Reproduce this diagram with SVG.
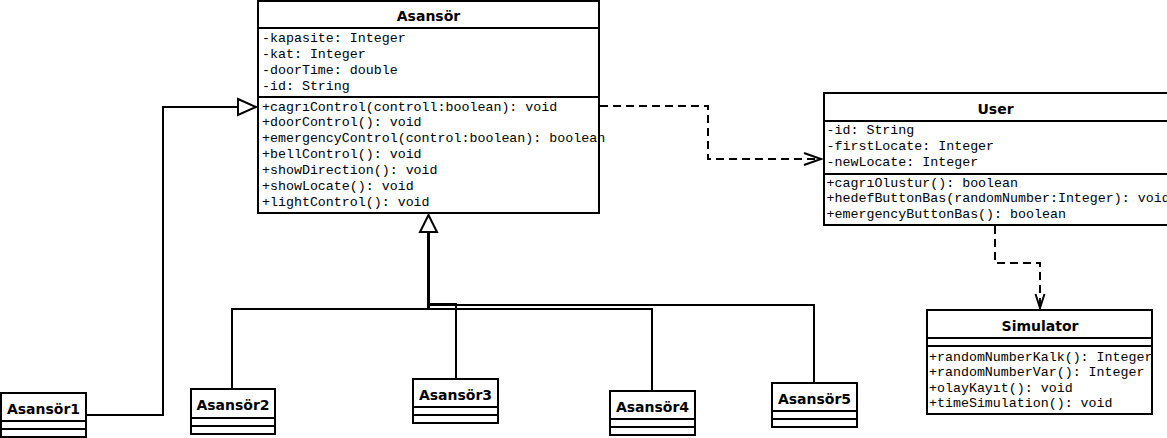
<svg xmlns="http://www.w3.org/2000/svg" width="1167" height="438" viewBox="0 0 1167 438">
<style>
.box{fill:#fff;stroke:#000;stroke-width:2}
.sep{stroke:#000;stroke-width:2}
.title{font-family:"DejaVu Sans",Verdana,sans-serif;font-weight:bold;font-size:14px;fill:#000;text-anchor:middle}
.mono{font-family:"Liberation Mono","Courier New",monospace;font-size:13.3px;fill:#000}
.line{fill:none;stroke:#000;stroke-width:2}
.dash{fill:none;stroke:#000;stroke-width:2;stroke-dasharray:8 5}
.head{fill:none;stroke:#000;stroke-width:2}
.tri{fill:#fff;stroke:#000;stroke-width:2}
</style>
<rect width="1167" height="438" fill="#fff"/>
<g id="connectors">
<path class="line" d="M86 415 H163 V107 H238"/>
<polygon class="tri" points="238,99 256,107 238,115"/>
<path class="line" d="M232 389 V309 H429"/>
<path class="line" d="M456 379 V304 H429"/>
<path class="line" d="M652 391 V309 H429"/>
<path class="line" d="M814 383 V305 H429"/>
<path d="M428.5 232 V309" fill="none" stroke="#000" stroke-width="3"/>
<polygon class="tri" points="428.5,215 420,232 437,232"/>
<path class="dash" d="M600 106 H708 V159 H820"/>
<polyline class="head" points="804,153 821,159 804,165"/>
<path class="dash" d="M995 226 V263 H1040 V306"/>
<polyline class="head" points="1035.5,294 1040,308 1044.5,294"/>
</g>
<g id="Asansor">
<rect class="box" x="258" y="1" width="341" height="212"/>
<line class="sep" x1="258" y1="28" x2="599" y2="28"/>
<line class="sep" x1="258" y1="97" x2="599" y2="97"/>
<text class="title" x="428.5" y="21">Asansör</text>
<text class="mono" x="262" y="42">-kapasite: Integer</text>
<text class="mono" x="262" y="58">-kat: Integer</text>
<text class="mono" x="262" y="74">-doorTime: double</text>
<text class="mono" x="262" y="90">-id: String</text>
<text class="mono" x="262" y="110.5">+cagrıControl(controll:boolean): void</text>
<text class="mono" x="262" y="126.3">+doorControl(): void</text>
<text class="mono" x="262" y="142.2">+emergencyControl(control:boolean): boolean</text>
<text class="mono" x="262" y="158">+bellControl(): void</text>
<text class="mono" x="262" y="173.8">+showDirection(): void</text>
<text class="mono" x="262" y="189.7">+showLocate(): void</text>
<text class="mono" x="262" y="205.5">+lightControl(): void</text>
</g>
<g id="User">
<rect class="box" x="824" y="93" width="345" height="132"/>
<line class="sep" x1="824" y1="121" x2="1169" y2="121"/>
<line class="sep" x1="824" y1="174" x2="1169" y2="174"/>
<text class="title" x="995.5" y="113.5">User</text>
<text class="mono" x="826.5" y="133.5">-id: String</text>
<text class="mono" x="826.5" y="150">-firstLocate: Integer</text>
<text class="mono" x="826.5" y="166.3">-newLocate: Integer</text>
<text class="mono" x="826.5" y="186.7">+cagrıOlustur(): boolean</text>
<text class="mono" x="826.5" y="202.3">+hedefButtonBas(randomNumber:Integer): void</text>
<text class="mono" x="826.5" y="218">+emergencyButtonBas(): boolean</text>
</g>
<g id="Simulator">
<rect class="box" x="927" y="310" width="225" height="104"/>
<line class="sep" x1="927" y1="338" x2="1152" y2="338"/>
<line class="sep" x1="927" y1="346" x2="1152" y2="346"/>
<text class="title" x="1040" y="331">Simulator</text>
<text class="mono" x="929" y="360.5">+randomNumberKalk(): Integer</text>
<text class="mono" x="929" y="376">+randomNumberVar(): Integer</text>
<text class="mono" x="929" y="391.5">+olayKayıt(): void</text>
<text class="mono" x="929" y="407">+timeSimulation(): void</text>
</g>
<g id="Asansor1">
<rect class="box" x="1" y="393" width="85" height="44"/>
<line class="sep" x1="1" y1="421" x2="86" y2="421"/>
<line class="sep" x1="1" y1="429" x2="86" y2="429"/>
<text class="title" x="43.5" y="413.5">Asansör1</text>
</g>
<g id="Asansor2">
<rect class="box" x="191" y="389" width="84" height="45"/>
<line class="sep" x1="191" y1="418" x2="275" y2="418"/>
<line class="sep" x1="191" y1="426" x2="275" y2="426"/>
<text class="title" x="233" y="410">Asansör2</text>
</g>
<g id="Asansor3">
<rect class="box" x="413" y="379" width="85" height="44"/>
<line class="sep" x1="413" y1="407" x2="498" y2="407"/>
<line class="sep" x1="413" y1="415" x2="498" y2="415"/>
<text class="title" x="455.5" y="400">Asansör3</text>
</g>
<g id="Asansor4">
<rect class="box" x="610" y="391" width="85" height="44"/>
<line class="sep" x1="610" y1="419" x2="695" y2="419"/>
<line class="sep" x1="610" y1="427" x2="695" y2="427"/>
<text class="title" x="652.5" y="412">Asansör4</text>
</g>
<g id="Asansor5">
<rect class="box" x="772" y="383" width="85" height="44"/>
<line class="sep" x1="772" y1="411" x2="857" y2="411"/>
<line class="sep" x1="772" y1="419" x2="857" y2="419"/>
<text class="title" x="814.5" y="404">Asansör5</text>
</g>
</svg>
